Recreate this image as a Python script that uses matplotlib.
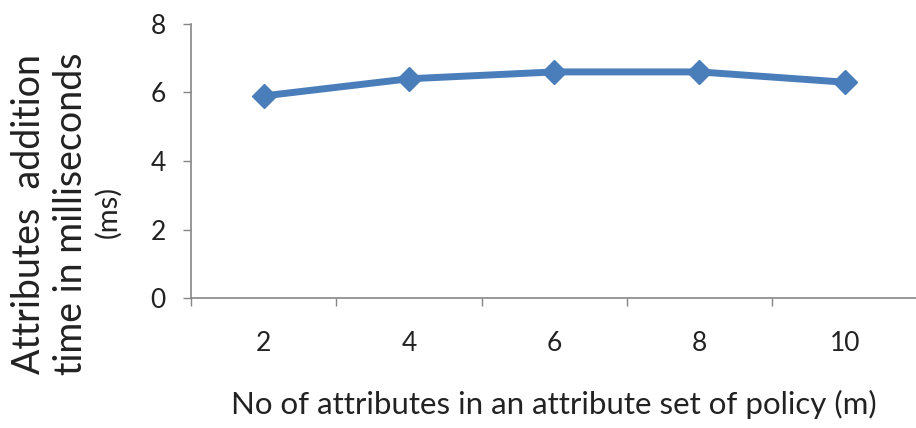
import matplotlib
matplotlib.use("Agg")
import matplotlib.pyplot as plt
import numpy as np

# attribute counts and measured addition times (ms)
attributes = ["2", "4", "6", "8", "10"]
add_time = [5.9, 6.4, 6.6, 6.6, 6.3]

plt.rcParams['font.family'] = ['Lato', 'DejaVu Sans']

fig = plt.figure(figsize=(9.16, 4.28), dpi=100)
ax = fig.add_axes([0.2085, 0.3037, 0.793, 0.6403])

pos = np.arange(len(attributes))
ax.plot(pos, add_time, color='#4a7ebb', lw=5, marker='D', ms=12,
        solid_joinstyle='round', solid_capstyle='round')

ax.set_xlim(-0.5, len(attributes) - 0.5)
ax.set_ylim(0, 8)
ax.set_yticks([0, 2, 4, 6, 8])

# category boundaries get the tick marks, labels sit in the middle
ax.set_xticks(np.arange(len(attributes) + 1) - 0.5)
ax.set_xticklabels([])
ax.set_xticks(pos, minor=True)
ax.set_xticklabels(attributes, minor=True)
ax.tick_params(axis='x', which='minor', length=0, pad=24, labelsize=19,
               labelcolor='#222222')
ax.tick_params(axis='x', which='major', length=6, direction='out',
               color='#868686', width=1)
ax.tick_params(axis='y', length=6, direction='out', color='#868686',
               width=1, labelsize=19, pad=12, labelcolor='#222222')

for s in ['top', 'right']:
    ax.spines[s].set_visible(False)
for s in ['left', 'bottom']:
    ax.spines[s].set_color('#868686')
    ax.spines[s].set_linewidth(1.2)

ax.set_xlabel("No of attributes in an attribute set of policy (m)",
              fontsize=22.5, labelpad=24, color='#222222')

ylab = dict(rotation=90, ha='center', va='center', color='#222222')
fig.text(0.032, 0.500, "Attributes  addition", fontsize=27, **ylab)
fig.text(0.078, 0.500, "time in milliseconds", fontsize=27, **ylab)
fig.text(0.118, 0.505, "(ms)", fontsize=21, **ylab)

fig.savefig("out.png", dpi=100)
